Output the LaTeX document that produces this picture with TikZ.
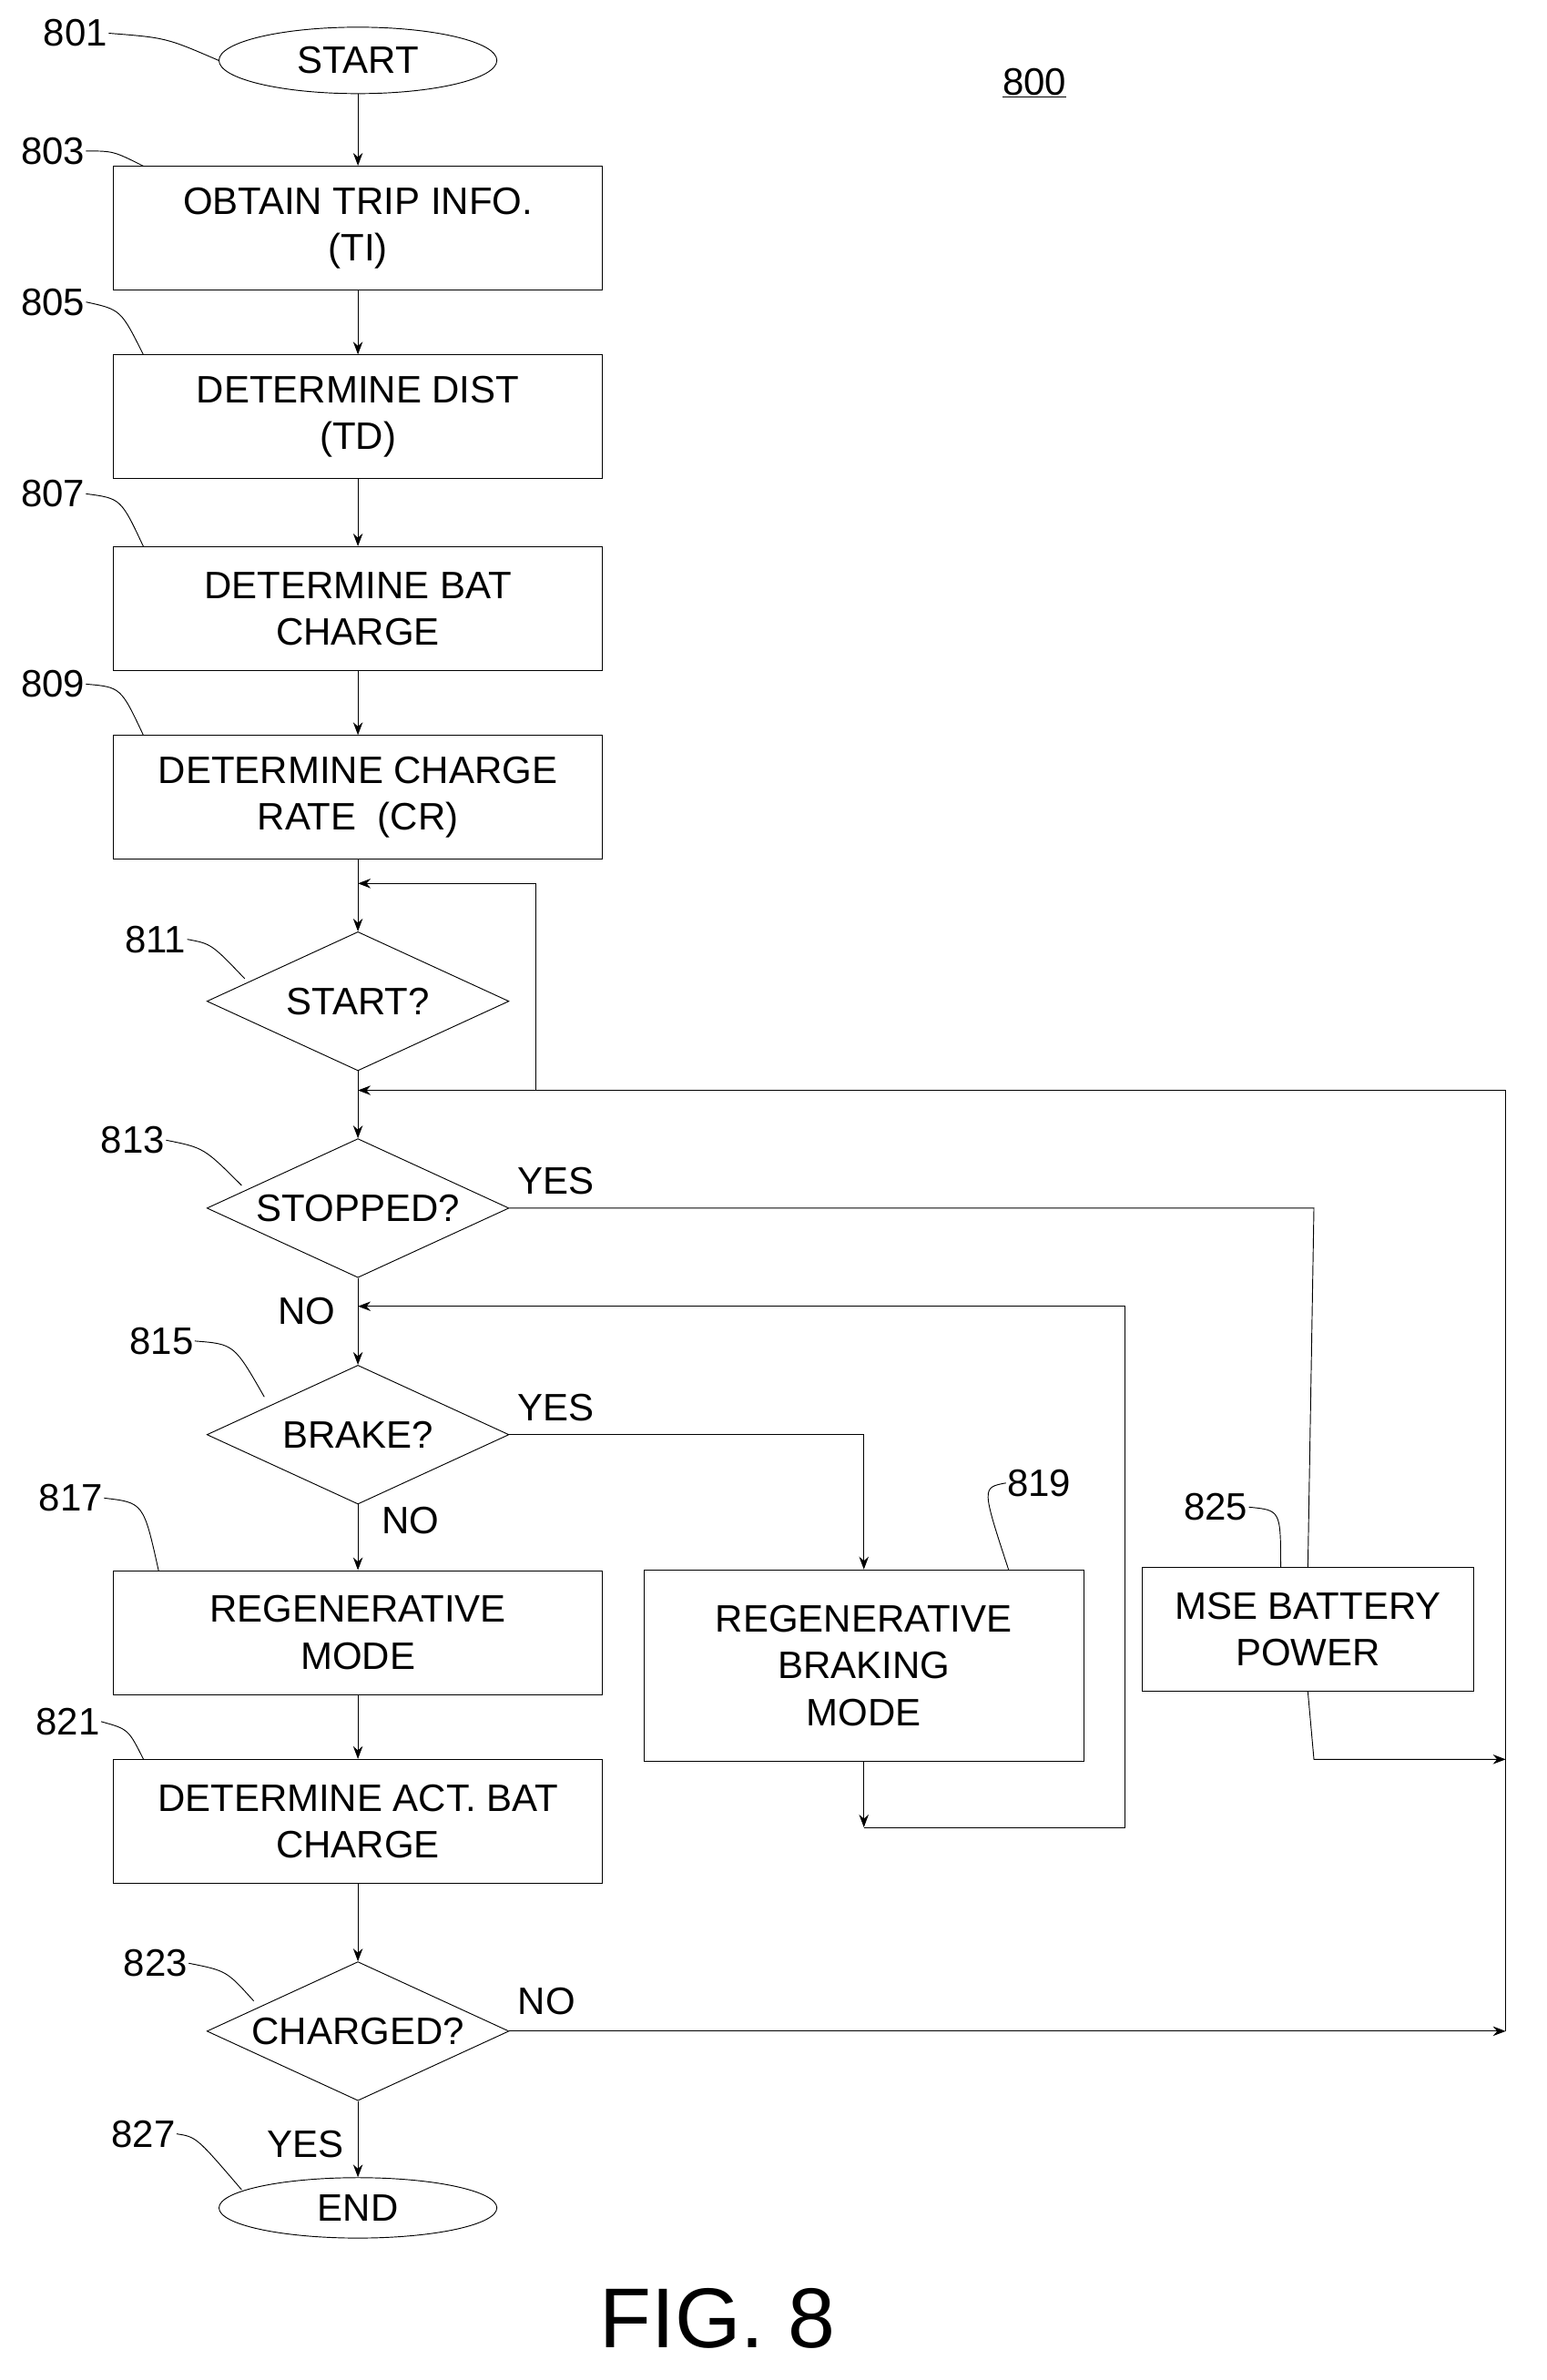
\documentclass[tikz,border=0pt]{standalone}
\usepackage{fontspec}
\setmainfont{Liberation Sans}
\usetikzlibrary{shapes.geometric,arrows.meta}
\begin{document}
\begin{tikzpicture}[x=0.05cm, y=-0.05cm,
  every node/.style={font=\fontsize{36}{44}\selectfont, align=center},
  box/.style={draw, thick, minimum width=16.2cm, minimum height=4.1cm},
  dec/.style={draw, thick, diamond, aspect=2.2, minimum width=10cm, minimum height=4.6cm, inner sep=0pt},
  term/.style={draw, thick, ellipse, minimum width=9.2cm, minimum height=2.2cm},
  num/.style={inner sep=1pt},
  line/.style={thick},
  arr/.style={thick, -{Stealth[length=12pt]}}]
  \useasboundingbox (0,0) rectangle (1024,1576);
  \node[term] (801) at (237,40) {START};
  \node[box] (803) at (237,151) {OBTAIN TRIP INFO.\\(TI)};
  \node[box] (805) at (237,276) {DETERMINE DIST\\(TD)};
  \node[box] (807) at (237,403) {DETERMINE BAT\\CHARGE};
  \node[box] (809) at (237,528) {DETERMINE CHARGE\\RATE\ \ (CR)};
  \node[dec] (811) at (237,663) {START?};
  \node[dec] (813) at (237,800) {STOPPED?};
  \node[dec] (815) at (237,950) {BRAKE?};
  \node[box] (817) at (237,1081) {REGENERATIVE\\MODE};
  \node[box, minimum width=14.55cm, minimum height=6.35cm] (819) at (572,1103) {REGENERATIVE\\BRAKING\\MODE};
  \node[box, minimum width=10.95cm] (825) at (866,1079) {MSE BATTERY\\POWER};
  \node[box] (821) at (237,1206) {DETERMINE ACT. BAT\\CHARGE};
  \node[dec] (823) at (237,1345) {CHARGED?};
  \node[term, minimum height=2cm] (827) at (237,1462) {END};
  % labels
  \node[num] (l800) at (685,55) {\underline{800}};
  \node[num] (l801) at (50,22) {801};
  \node[num] (l803) at (35,100) {803};
  \node[num] (l805) at (35,200) {805};
  \node[num] (l807) at (35,327) {807};
  \node[num] (l809) at (35,453) {809};
  \node[num] (l811) at (103,622) {811};
  \node[num] (l813) at (88,755) {813};
  \node[num] (l815) at (107,888) {815};
  \node[num] (l817) at (47,992) {817};
  \node[num] (l819) at (688,982) {819};
  \node[num] (l825) at (805,998) {825};
  \node[num] (l821) at (45,1140) {821};
  \node[num] (l823) at (103,1300) {823};
  \node[num] (l827) at (95,1413) {827};
  \node (yes1) at (368,782) {YES};
  \node (no1) at (203,868) {NO};
  \node (yes2) at (368,932) {YES};
  \node (no2) at (272,1007) {NO};
  \node (no3) at (362,1325) {NO};
  \node (yes3) at (202,1420) {YES};
  \node[font=\fontsize{80}{90}\selectfont] (fig) at (475,1535) {FIG. 8};
  % leaders
  \draw[line] (l801.east) .. controls (110,25) .. (801.west);
  \draw[line] (l803.east) .. controls (75,100) .. (95,110);
  \draw[line] (l805.east) .. controls (80,205) .. (95,235);
  \draw[line] (l807.east) .. controls (80,330) .. (95,362);
  \draw[line] (l809.east) .. controls (80,455) .. (95,487);
  \draw[line] (l811.east) .. controls (140,625) .. (162,648);
  \draw[line] (l813.east) .. controls (135,760) .. (160,785);
  \draw[line] (l815.east) .. controls (155,890) .. (175,925);
  \draw[line] (l817.east) .. controls (95,995) .. (105,1040);
  \draw[line] (l819.west) .. controls (650,985) .. (668,1040);
  \draw[line] (l825.east) .. controls (848,1000) .. (848,1038);
  \draw[line] (l821.east) .. controls (85,1145) .. (95,1165);
  \draw[line] (l823.east) .. controls (150,1305) .. (168,1325);
  \draw[line] (l827.east) .. controls (130,1415) .. (160,1450);
  % flow
  \draw[arr] (801) -- (803);
  \draw[arr] (803) -- (805);
  \draw[arr] (805) -- (807);
  \draw[arr] (807) -- (809);
  \draw[arr] (809) -- (811);
  \draw[arr] (811) -- (813);
  \draw[arr] (813) -- (815);
  \draw[arr] (815) -- (817);
  \draw[arr] (817) -- (821);
  \draw[arr] (821) -- (823);
  \draw[arr] (823) -- (827);
  \coordinate (c1) at (237,585);
  \coordinate (c2) at (237,722);
  \coordinate (c3) at (237,865);
  \coordinate (bus) at (997,722);
  \draw[arr] (355,722) -- (355,585) -- (c1);
  \draw[arr] (bus) -- (c2);
  \draw[line] (997,1345) -- (bus);
  \draw[line] (813.east) -- (870,800) -- (825.north);
  \draw[arr] (815.east) -- (572,950) -- (819.north);
  \draw[arr] (819.south) -- (572,1210);
  \draw[arr] (572,1210) -- (745,1210) -- (745,865) -- (c3);
  \draw[arr] (825.south) -- (870,1165) -- (997,1165);
  \draw[arr] (823.east) -- (997,1345);
\end{tikzpicture}
\end{document}
